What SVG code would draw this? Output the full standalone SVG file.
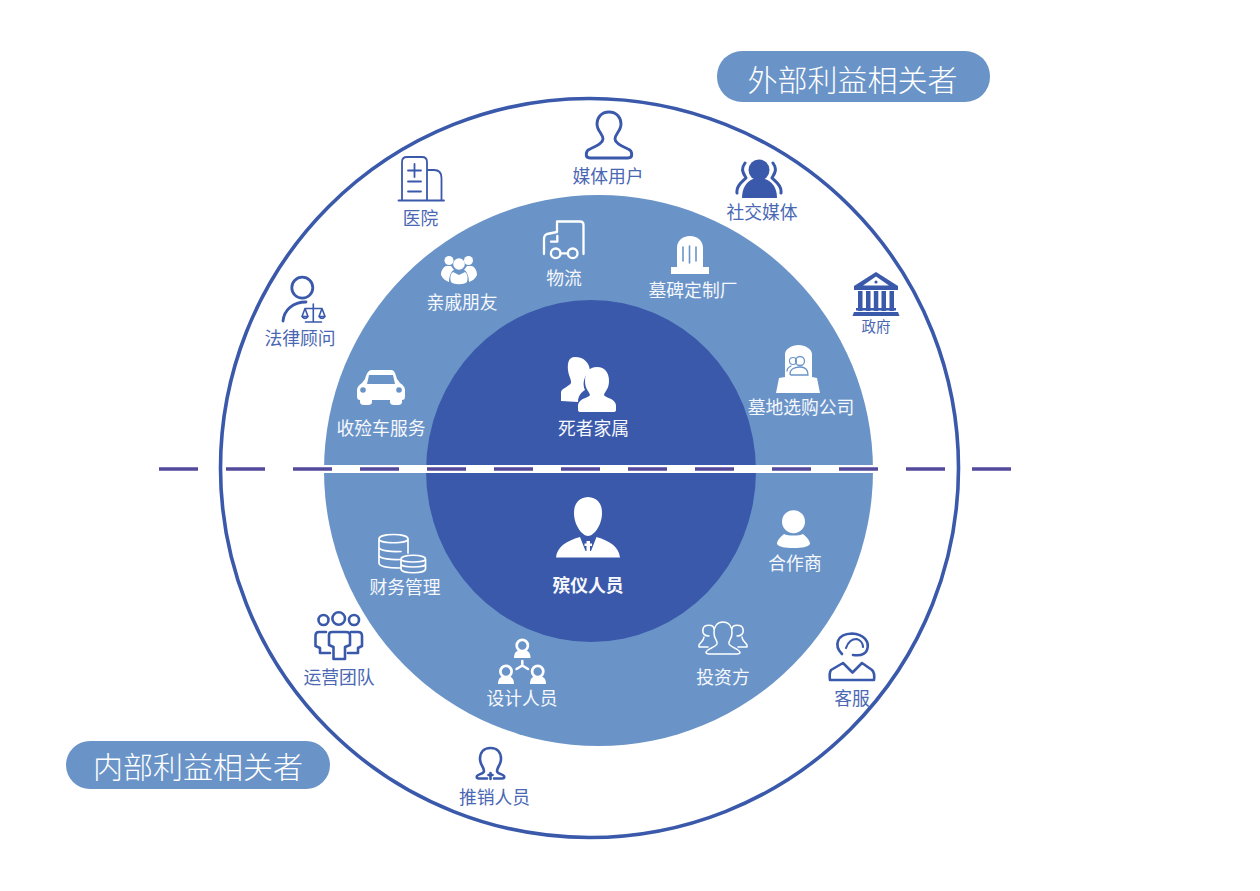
<svg xmlns="http://www.w3.org/2000/svg" width="1260" height="891" viewBox="0 0 1260 891">
<style>
text{font-family:"Noto Sans CJK SC","Noto Sans",sans-serif;font-size:17.8px;text-anchor:middle;font-weight:400}
.d{fill:#4a67b3}.w{fill:#f6f8fc}.t{font-size:30px;fill:#fff;font-weight:300}
.ow{fill:none;stroke:#fff;stroke-width:2.3;stroke-linecap:round;stroke-linejoin:round}
.od{fill:none;stroke:#3a59ab;stroke-width:2.6;stroke-linecap:round;stroke-linejoin:round}
.fw{fill:#fff;stroke:none}.fd{fill:#3a59ab;stroke:none}.fm{fill:#6a94c8;stroke:none}
.cut{fill:none;stroke:#6a94c8;stroke-width:1.6;stroke-linecap:round}
</style>
<rect width="1260" height="891" fill="#fff"/>
<g id="rings">
<ellipse cx="589.500" cy="468" rx="369" ry="369.500" fill="#fff" stroke="#3a59ab" stroke-width="3.600"/>
<ellipse cx="598.500" cy="470.500" rx="274.500" ry="275.500" fill="#6a94c8"/>
<ellipse cx="591" cy="471" rx="165" ry="171" fill="#3a59ab"/>
<rect x="320" y="465" width="557" height="8" fill="#fff"/>
</g>
<g id="connectors" stroke="#544a9c" stroke-width="3.400" fill="none">
<path d="M159 469h39M226 469h39M293 469h39M360 469h39M427 469h39M494 469h39M561 469h39M628 469h39M695 469h39M772 469h39M839 469h39M906 469h39M972 469h39"/>
</g>
<g id="external-label"><rect x="717" y="51" width="273" height="51" rx="25" fill="#6a94c8"/><text class="t" x="852.500" y="91">外部利益相关者</text></g>
<g id="internal-label"><rect x="66" y="741" width="264" height="48" rx="24" fill="#6a94c8"/><text class="t" x="198" y="778">内部利益相关者</text></g>

<g id="media-users">
<path class="od" style="stroke-width:2.900" d="M609 112C601 112 597 118 597 124C597 131 603 134 603 139C603 143 597 146 590 149C585 151 585 158 590 158H628C633 158 633 151 628 149C621 146 615 143 615 139C615 134 621 131 621 124C621 118 617 112 609 112Z"/>
<text class="d" x="608" y="183">媒体用户</text>
</g>
<g id="social-media">
<circle class="fd" cx="759" cy="170" r="10.500"/>
<path class="fd" d="M742 198C742 188 747 181 753 179H765C772 181 777 188 777 198Z"/>
<path class="od" style="stroke-width:3" d="M745 163C740 170 744 174 746 178C742 182 736 186 737 193M773 163C778 170 774 174 772 178C776 182 782 186 781 193"/>
<text class="d" x="762" y="219">社交媒体</text>
</g>
<g id="hospital">
<path class="od" style="stroke-width:1.800" d="M398.500 200.500H444M402 200V162Q402 157 407 157H422Q427 157 427 162V200M427 170H434Q441.500 170 441.500 178V200M414.500 164V177M408 170.500H421M408 181.500H421M408 191.500H421"/>
<text class="d" x="420.500" y="225">医院</text>
</g>
<g id="government">
<path class="fd" d="M876 272L898 286V290H854V286Z"/>
<path class="fw" d="M876 276.500L889 285.500H863Z"/>
<circle class="fd" cx="876" cy="282" r="1.600"/>
<path class="fd" d="M858 291h4.500v20h-4.500zM866 291h4.500v20h-4.500zM873.800 291h4.500v20h-4.500zM881.500 291h4.500v20h-4.500zM889.500 291h4.500v20h-4.500z"/>
<rect class="fd" x="856" y="308" width="40" height="2.500"/>
<path class="fd" d="M854 312H898L899.500 316H852.500Z"/>
<text class="d" style="font-size:14.500px" x="876" y="331.500">政府</text>
</g>
<g id="legal-advisor">
<circle class="od" style="stroke-width:2.800" cx="302.300" cy="287.700" r="10.500"/>
<path class="od" style="stroke-width:2.800" d="M283 321C284 310 293 302 306 302"/>
<path class="od" style="stroke-width:1.600" d="M313.300 304V322M305.500 322H321.500M305 308.500H322M305 308.500L302 316.500M305 308.500L308 316.500M322 308.500L319 316.500M322 308.500L325 316.500M302 316.500Q305 320.500 308 316.500ZM319 316.500Q322 320.500 325 316.500Z"/>
<text class="d" x="300" y="345">法律顾问</text>
</g>

<g id="relatives">
<circle class="fw" cx="449" cy="260.500" r="4.500"/><circle class="fw" cx="468.500" cy="260.500" r="4.500"/><circle class="fw" cx="459" cy="264" r="5.800"/>
<path class="fw" d="M446 266C442 268 441 272 441 275C443 279 446 281 449 282C449 277 451 271 454 270L451 266ZM472 266C476 268 477 272 477 275C475 279 472 281 469 282C469 277 467 271 464 270L467 266Z"/>
<path class="fw" d="M453 272C450 274 450 279 451 282C454 285 464 285 467 282C468 279 468 274 465 272L459 275Z"/>
<text class="w" x="462" y="309">亲戚朋友</text>
</g>
<g id="logistics">
<path class="ow" d="M583.500 254V225Q583.500 221.500 580 221.500H557V232L547 234Q544 235 544 239V254M551 241.700H557.300V236M560.500 253.300H568"/>
<circle class="ow" cx="555.700" cy="253.300" r="4.800"/><circle class="ow" cx="572.700" cy="253.300" r="4.800"/>
<text class="w" x="564" y="285">物流</text>
</g>
<g id="headstone-maker">
<path class="fw" d="M677 267V248C677 241 682 236 690 236C698 236 703 241 703 248V267H709V274H671V267Z"/>
<path class="cut" d="M683 247V261M689.500 246V263M696 247V261"/>
<text class="w" x="693" y="297">墓碑定制厂</text>
</g>
<g id="cemetery-company">
<path class="fw" d="M785 377V354C785 349 792 345 798.500 345C805 345 812 349 812 354V377L817 378L820 393H776L779 378Z"/>
<circle class="cut" cx="800" cy="361" r="4.500" style="stroke-width:1.300"/>
<circle class="cut" cx="793" cy="361" r="3.500" style="stroke-width:1.100"/>
<path class="cut" style="stroke-width:1.300" d="M790 374C790 369 795 367 800 367C805 367 808 370 808 375H791ZM787 371C787 368 789 367 791 366"/>
<text class="w" x="801" y="414">墓地选购公司</text>
</g>
<g id="hearse">
<path class="fw" d="M372 370H391C394 370 395 372 397 379L400 383C403 385 405 387 405 390V396C405 399 404 400 402 400V402Q402 405 398 405H394Q390 405 390 402V400H372V402Q372 405 368 405H364Q360 405 360 402V400C358 400 357 399 357 396V390C357 387 359 385 362 383L365 379C367 372 369 370 372 370Z"/>
<path class="fm" d="M369 375H393L395 384H367Z"/>
<circle class="fm" cx="363" cy="390" r="2.800"/><circle class="fm" cx="399" cy="390" r="2.800"/>
<text class="w" x="381" y="435">收殓车服务</text>
</g>
<g id="bereaved-family">
<path class="fw" d="M575 357C568 357 567.500 364 568 370C568.500 376 571.500 379 571 383C570 386 562 388 561 392V401L578 402C578 395 582 392 585 390C582 384 584 375 590 372C590 363 584 357 575 357Z"/>
<path class="fw" d="M597 367C589 367 585 373 585 381C585 389 589 391 590 395C589 398 579 398 578 405V410Q578 412 581 412H613Q616 412 616 410V405C615 398 605 398 604 395C605 391 609 389 609 381C609 373 605 367 597 367Z"/>
<text class="w" x="593.500" y="435">死者家属</text>
</g>
<g id="funeral-staff">
<path class="fw" d="M588 497C578 498 574 504 574 513C574 525 582 536 588 536C594 536 602 525 602 513C602 504 598 498 588 497Z"/>
<path class="fw" d="M580 537C566 541 557 547 556 557.500H620C619 547 610 541 596.500 537L591 551H585.500Z"/>
<path class="fw" d="M586.500 541h3.500v2.500h2v2.500h-2v5h-3.500v-5h-2v-2.500h2z"/>
<text class="w" style="font-weight:700" x="588" y="592">殡仪人员</text>
</g>
<g id="partners">
<circle class="fw" cx="793.500" cy="521.700" r="11.500"/>
<path class="fw" d="M784 534C788 536 799 536 803 534C807 537 810 541 810 544C808 547 802 548 793.500 548C785 548 779 547 777 544C777 541 780 537 784 534Z"/>
<text class="w" x="795" y="570">合作商</text>
</g>
<g id="finance">
<path class="ow" style="stroke-width:1.700" d="M379 539C379 533 408 533 408 539V553M379 539C379 544 408 544 408 539M379 539V563C379 567 390 568 401 568M379 547C379 551 392 552 401 551.500M379 555C379 559 392 560 401 559.500"/>
<path class="ow" style="stroke-width:1.700" d="M401 559C401 554 425.500 554 425.500 559V569C425.500 574 401 574 401 569ZM401 559C401 563 425.500 563 425.500 559M401 564C401 568 425.500 568 425.500 564"/>
<text class="w" x="405" y="594">财务管理</text>
</g>
<g id="operations-team">
<circle class="od" cx="323.500" cy="620" r="5"/><circle class="od" cx="338.700" cy="618.500" r="6.300"/><circle class="od" cx="354" cy="620" r="5"/>
<path class="od" d="M332 632H346Q350 632 350 635V645L345 647V659H333.500V647L329 645V635Q329 632 332 632ZM326 632H319Q315.500 632 315.500 636V646L320 648V653H330M351 632H358Q362 632 362 636V646L358 648V653H348"/>
<text class="d" x="339" y="684">运营团队</text>
</g>
<g id="designers">
<circle class="ow" style="stroke-width:2.700" cx="522.300" cy="645.500" r="5.600"/><path class="fw" d="M514 658C514 652 517 650 522.300 650C527.500 650 530.500 652 530.500 658Z"/>
<circle class="ow" style="stroke-width:2.700" cx="506" cy="671.500" r="5.600"/><path class="fw" d="M498 684C498 678 501 676 506 676C511 676 514 678 514 684Z"/>
<circle class="ow" style="stroke-width:2.700" cx="537.700" cy="671.500" r="5.600"/><path class="fw" d="M530 684C530 678 533 676 537.700 676C543 676 546 678 546 684Z"/>
<path class="ow" style="stroke-width:2.500" d="M522.300 661V666M516.500 669L522.300 665.500L528 669"/>
<text class="w" x="522" y="705">设计人员</text>
</g>
<g id="investors">
<path class="ow" style="stroke-width:1.500" d="M723 622C716 622 714 628 714 633C714 640 718 640 717 644C715 648 708 648 706 652Q706 654 709 654H737Q740 654 740 652C738 648 731 648 729 644C728 640 732 640 732 633C732 628 730 622 723 622Z"/>
<path class="ow" style="stroke-width:1.500" d="M709 636C705 636 702 634 703 629C704 624 714 624 714 629M704 637C704 640 702 641 699 645V647H708M737 636C741 636 744 634 743 629C742 624 732 624 732 629M742 637C742 640 744 641 747 645V647H738"/>
<text class="w" x="723" y="684">投资方</text>
</g>
<g id="customer-service">
<path class="od" d="M842 654C834 646 836 634 852 633.500C864 634 870 642 867 650C865 655 860 656 853 655"/>
<path class="od" style="stroke-width:2.200" d="M846 648C848 642 852 639 856.700 639C860 640 863 643 863 647"/>
<path class="od" d="M843 663L831 670Q829 673 830 680H874Q875 673 872 670L862 663L852.500 672.500Z"/>
<text class="d" x="852" y="705">客服</text>
</g>
<g id="sales-staff">
<path class="od" d="M490.500 748C483 748 480 753 480 759C480 765 484 767 484 771C484 774 478 774 477 776Q476 778.500 479 778.500H487M490.500 748C498 748 501 753 501 759C501 765 497 767 497 771C497 774 503 774 504 776Q505 778.500 502 778.500H494M490.500 773V779M488.500 775H492.500"/>
<text class="d" x="494.500" y="804">推销人员</text>
</g>
</svg>
